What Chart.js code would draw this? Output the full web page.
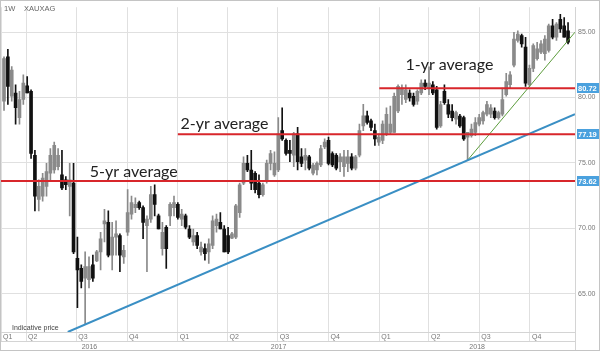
<!DOCTYPE html>
<html lang="en">
<head>
<meta charset="UTF-8">
<title>XAUXAG weekly</title>
<script src="https://cdn.jsdelivr.net/npm/chart.js"></script>
<style>
  body { margin: 0; background: #fff; }
  .wrap { width: 600px; height: 351px; position: relative; }
</style>
</head>
<body>
<div class="wrap"><canvas id="chart"></canvas></div>
<script>
// weekly candles, x = week number counted from the week of 2016-02-21
const firstWeek = Date.UTC(2016, 1, 21);
const WEEK = 7 * 864e5;

const opens = [
  79.73, 83.11, 80.10, 80.35, 78.47, 79.85, 80.90, 80.48, 75.59, 72.21,
  72.46, 73.21, 74.21, 74.46, 74.71, 74.09, 73.71, 73.21, 73.46, 67.70,
  66.94, 66.19, 66.07, 67.20, 67.50, 68.20, 70.33, 70.45, 67.95, 69.33,
  69.45, 67.82, 69.70, 71.08, 71.58, 71.96, 71.58, 70.20, 70.70, 72.58,
  70.95, 68.45, 70.08, 70.95, 71.58, 71.83, 70.70, 70.95, 69.95, 68.95,
  69.45, 68.20, 68.45, 68.20, 68.70, 70.20, 70.45, 69.95, 69.45, 69.25,
  69.33, 71.20, 73.46, 74.96, 74.46, 74.21, 73.46, 72.58, 73.58, 74.96,
  74.09, 74.46, 77.47, 76.72, 75.97, 75.59, 77.22, 75.46, 75.21, 75.46,
  74.21, 74.46, 74.84, 76.22, 76.72, 75.72, 75.59, 75.09, 74.71, 74.96,
  75.46, 74.59, 75.59, 77.84, 78.60, 78.22, 77.47, 76.59, 76.72, 77.22,
  77.34, 77.34, 78.97, 80.22, 79.85, 80.35, 80.10, 79.72, 80.35, 81.10,
  80.72, 80.98, 80.60, 77.84, 80.47, 79.47, 78.97, 78.34, 78.59, 78.47,
  76.97, 77.09, 77.34, 77.97, 78.22, 78.72, 78.72, 78.97, 78.47, 78.72,
  80.22, 80.98, 82.48, 84.36, 84.73, 83.86, 80.98, 82.23, 82.98, 83.48,
  83.36, 83.61, 85.49, 84.61, 85.99, 85.49, 85.11
];
const highs = [
  83.11, 83.69, 82.36, 80.98, 80.48, 81.73, 81.61, 80.60, 75.97, 73.71,
  74.21, 74.96, 76.09, 76.59, 76.09, 75.97, 73.96, 74.96, 74.96, 69.33,
  67.20, 68.20, 67.82, 67.95, 68.32, 69.70, 71.45, 71.33, 70.45, 70.58,
  69.58, 68.70, 72.96, 72.46, 72.33, 72.08, 71.71, 70.95, 73.21, 73.33,
  71.08, 70.45, 70.20, 71.96, 72.46, 71.96, 71.45, 71.08, 70.20, 69.95,
  69.70, 68.95, 68.82, 69.20, 70.95, 71.08, 71.20, 70.20, 70.08, 69.70,
  71.83, 73.46, 75.46, 75.59, 75.97, 74.34, 74.09, 73.46, 75.21, 75.97,
  75.84, 78.47, 79.22, 76.84, 76.72, 77.34, 77.72, 76.09, 76.09, 75.59,
  74.96, 75.09, 76.34, 76.84, 76.97, 75.84, 75.72, 75.72, 75.97, 75.97,
  75.72, 75.59, 77.97, 79.48, 78.97, 78.35, 77.97, 77.22, 78.22, 79.22,
  79.35, 80.35, 80.98, 80.98, 80.98, 80.60, 80.35, 80.60, 81.35, 81.35,
  82.35, 81.23, 80.85, 79.72, 80.98, 79.85, 79.47, 78.97, 78.72, 78.59,
  77.34, 77.97, 78.47, 78.72, 78.97, 79.72, 79.47, 79.22, 78.97, 80.72,
  81.85, 81.98, 84.99, 85.11, 84.86, 84.61, 82.48, 84.11, 84.23, 84.36,
  84.73, 85.61, 85.99, 85.74, 86.36, 86.11, 85.74
];
const lows = [
  79.02, 79.48, 79.73, 77.97, 77.97, 79.48, 80.35, 75.34, 71.33, 71.33,
  72.08, 72.46, 73.71, 74.21, 74.46, 72.96, 72.96, 70.95, 68.07, 63.94,
  65.44, 62.68, 65.44, 65.94, 67.45, 66.82, 68.95, 67.82, 66.82, 67.95,
  66.69, 67.32, 69.45, 70.70, 71.20, 71.45, 69.20, 66.69, 70.45, 70.95,
  69.95, 67.95, 66.94, 70.20, 70.95, 70.70, 70.20, 69.95, 69.20, 68.70,
  68.45, 67.95, 67.57, 67.32, 68.45, 69.70, 69.95, 68.20, 68.07, 69.20,
  69.20, 70.83, 73.33, 74.34, 72.96, 72.71, 72.33, 72.46, 73.46, 74.46,
  73.96, 74.34, 76.72, 75.59, 75.09, 74.71, 74.46, 74.71, 74.46, 74.46,
  74.09, 74.09, 74.71, 76.09, 74.84, 74.71, 74.46, 74.34, 73.96, 74.34,
  74.46, 74.46, 75.46, 77.47, 77.97, 77.47, 76.34, 76.34, 76.47, 77.09,
  77.22, 77.34, 78.85, 79.47, 79.60, 79.72, 79.35, 79.47, 80.22, 80.60,
  80.22, 80.22, 77.59, 77.72, 79.47, 78.47, 78.22, 77.97, 77.72, 76.72,
  75.21, 76.97, 77.09, 77.84, 77.97, 78.59, 78.47, 78.34, 78.34, 78.59,
  80.10, 80.72, 82.35, 84.23, 83.86, 80.85, 80.85, 81.98, 82.86, 83.36,
  82.86, 83.48, 84.48, 84.36, 84.99, 84.61, 84.11
];
const closes = [
  82.98, 80.85, 82.11, 79.22, 79.85, 81.10, 80.35, 75.72, 72.46, 73.21,
  73.84, 74.34, 75.59, 76.34, 75.59, 73.08, 73.33, 73.71, 68.20, 66.82,
  65.94, 67.07, 67.07, 66.19, 68.20, 69.20, 70.58, 67.95, 69.33, 69.58,
  67.95, 68.32, 71.20, 71.96, 71.83, 71.58, 70.45, 70.70, 72.58, 71.83,
  69.95, 69.70, 68.45, 71.83, 71.96, 70.83, 71.08, 70.08, 69.33, 69.45,
  68.70, 68.57, 68.07, 68.82, 70.58, 70.70, 69.95, 68.20, 68.20, 69.58,
  71.71, 73.33, 74.96, 74.46, 73.46, 72.96, 72.58, 73.33, 74.96, 75.72,
  74.96, 77.22, 76.84, 75.72, 75.72, 77.22, 75.09, 74.96, 75.59, 74.59,
  74.84, 74.96, 76.09, 76.59, 74.96, 74.84, 74.59, 75.46, 75.46, 75.46,
  74.59, 75.46, 77.47, 78.60, 78.10, 77.72, 76.84, 76.97, 77.97, 78.72,
  77.97, 80.10, 80.85, 80.72, 80.60, 79.97, 79.47, 80.47, 81.10, 80.85,
  81.10, 80.35, 77.72, 79.47, 79.60, 78.72, 78.47, 78.85, 77.84, 76.84,
  77.34, 77.59, 78.09, 78.47, 78.85, 79.47, 79.22, 78.47, 78.85, 79.85,
  81.23, 81.73, 84.48, 84.86, 84.11, 81.10, 82.23, 83.98, 83.73, 84.11,
  84.48, 85.49, 84.61, 85.61, 85.24, 84.61, 84.23
];

// horizontal averages, drawn from the start of the given year (null = whole chart)
const avgLabels = ['5-yr average', '2-yr average', '1-yr average'];
const avgValues = [73.62, 77.19, 80.72];
const avgFromYear = [null, 2017, 2018];

// trend lines [week, value]
const blueTrend = [[16.5, 62.07], [147.8, 78.73]];
const greenTrend = [[120, 75.21], [147.8, 85.0]];

const yTicks = [65, 70, 75, 80, 85];
const years = [2016, 2017, 2018];
const quarterNames = ['Q1', 'Q2', 'Q3', 'Q4'];

const xMin = -0.78, xMax = 147.8;
const yMin = 62.07, yMax = 86.91;

const weekOf = (y, m) => (Date.UTC(y, m, 1) - firstWeek) / WEEK;

const quarterTicks = [{ value: xMin, label: 'Q1' }];
years.forEach(y => {
  [0, 3, 6, 9].forEach((m, q) => {
    const w = weekOf(y, m);
    if (w > xMin + 1 && w < xMax) quarterTicks.push({ value: w, label: quarterNames[q] });
  });
});

const UP = '#8a8a8a', DOWN = '#111111';
const candleColor = closes.map((c, i) => c >= opens[i] ? UP : DOWN);

const RED = '#d8262b';
const datasets = [];
avgValues.forEach((v, k) => {
  const from = avgFromYear[k] ? weekOf(avgFromYear[k], 0) : xMin;
  datasets.push({
    type: 'line', data: [{ x: from, y: v }, { x: xMax, y: v }],
    borderColor: RED, borderWidth: 2, pointRadius: 0, order: 0
  });
});
datasets.push({
  type: 'line', data: blueTrend.map(p => ({ x: p[0], y: p[1] })),
  borderColor: '#3a8fc4', borderWidth: 2, pointRadius: 0, order: 0
});
datasets.push({
  type: 'line', data: greenTrend.map(p => ({ x: p[0], y: p[1] })),
  borderColor: '#5c9c3c', borderWidth: 1, pointRadius: 0, order: 0
});
datasets.push({
  label: 'body', data: opens.map((o, i) => ({ x: i, y: [o, closes[i]] })),
  backgroundColor: candleColor, barThickness: 3, minBarLength: 1, grouped: false, order: 1
});
datasets.push({
  label: 'wick', data: highs.map((h, i) => ({ x: i, y: [lows[i], h] })),
  backgroundColor: candleColor, barThickness: 1, grouped: false, order: 2
});

const FONT = "'Liberation Sans', Arial, sans-serif";

const decor = {
  id: 'decor',
  beforeDatasetsDraw(chart) {
    const { ctx, scales: { x, y } } = chart;
    ctx.save();
    ctx.fillStyle = '#222';
    ctx.font = "16px Lato, 'Open Sans', sans-serif";
    ctx.textBaseline = 'alphabetic';
    const at = [22.2, 45.7, 103.9], lift = [4, 5, 18];
    avgLabels.forEach((t, k) => {
      ctx.fillText(t, x.getPixelForValue(at[k]), y.getPixelForValue(avgValues[k]) - lift[k]);
    });
    ctx.fillStyle = '#666';
    ctx.font = '7.5px ' + FONT;
    ctx.fillText('1W', 4, 11);
    ctx.fillText('XAUXAG', 24, 11);
    ctx.fillStyle = '#444';
    ctx.font = '7px ' + FONT;
    ctx.fillText('Indicative price', 12, 330);
    ctx.restore();
  },
  afterDraw(chart) {
    const { ctx, chartArea: a, scales: { x, y } } = chart;
    ctx.save();
    // value boxes on right axis
    avgValues.forEach(v => {
      const py = Math.round(y.getPixelForValue(v));
      ctx.fillStyle = '#4aa1de';
      ctx.fillRect(a.right + 2, py - 5, 22, 10);
      ctx.fillStyle = '#fff';
      ctx.font = 'bold 7.5px ' + FONT;
      ctx.textBaseline = 'middle';
      ctx.fillText(v.toFixed(2), a.right + 3, py + 0.5);
    });
    // year row
    const rowY = a.bottom + 9.5;
    ctx.strokeStyle = '#d4d4d4';
    ctx.lineWidth = 1;
    ctx.beginPath();
    ctx.moveTo(0, rowY); ctx.lineTo(a.right, rowY);
    ctx.moveTo(a.right + 0.5, a.bottom); ctx.lineTo(a.right + 0.5, 351);
    ctx.stroke();
    ctx.fillStyle = '#777';
    ctx.font = '7px ' + FONT;
    ctx.textAlign = 'center';
    ctx.textBaseline = 'middle';
    years.forEach(yr => {
      const l = Math.max(x.getPixelForValue(weekOf(yr, 0)), a.left);
      const r = Math.min(x.getPixelForValue(weekOf(yr + 1, 0)), a.right);
      ctx.fillText(String(yr), (l + r) / 2, rowY + 5.5);
    });
    // frame
    ctx.strokeStyle = '#c4c4c4';
    ctx.strokeRect(0.5, 0.5, 599, 350);
    ctx.restore();
  }
};

new Chart(document.getElementById('chart'), {
  type: 'bar',
  data: { datasets },
  options: {
    responsive: true,
    maintainAspectRatio: false,
    animation: false,
    layout: { padding: { left: 1, top: 1, right: 0, bottom: 1 } },
    plugins: { legend: { display: false }, tooltip: { enabled: false } },
    scales: {
      x: {
        type: 'linear', min: xMin, max: xMax, bounds: 'data', offset: false,
        afterBuildTicks: s => { s.ticks = quarterTicks.map(q => ({ value: q.value })); },
        afterFit: s => { s.height = 18; },
        grid: { color: '#e0e0e0', offset: false, tickLength: 9, tickColor: '#e0e0e0' },
        border: { color: '#d4d4d4' },
        ticks: {
          autoSkip: false, maxRotation: 0, align: 'start', labelOffset: 2, padding: -8,
          color: '#777', font: { size: 7, family: FONT },
          callback: (v, i) => quarterTicks[i] ? quarterTicks[i].label : ''
        }
      },
      y: {
        position: 'right', min: yMin, max: yMax, bounds: 'data',
        afterBuildTicks: s => { s.ticks = yTicks.map(v => ({ value: v })); },
        afterFit: s => { s.width = 25; },
        grid: { color: '#e0e0e0', drawTicks: false },
        border: { color: '#d4d4d4' },
        ticks: { padding: 3, color: '#777', font: { size: 7, family: FONT }, callback: v => v.toFixed(2) }
      }
    }
  },
  plugins: [decor]
});
</script>
</body>
</html>
